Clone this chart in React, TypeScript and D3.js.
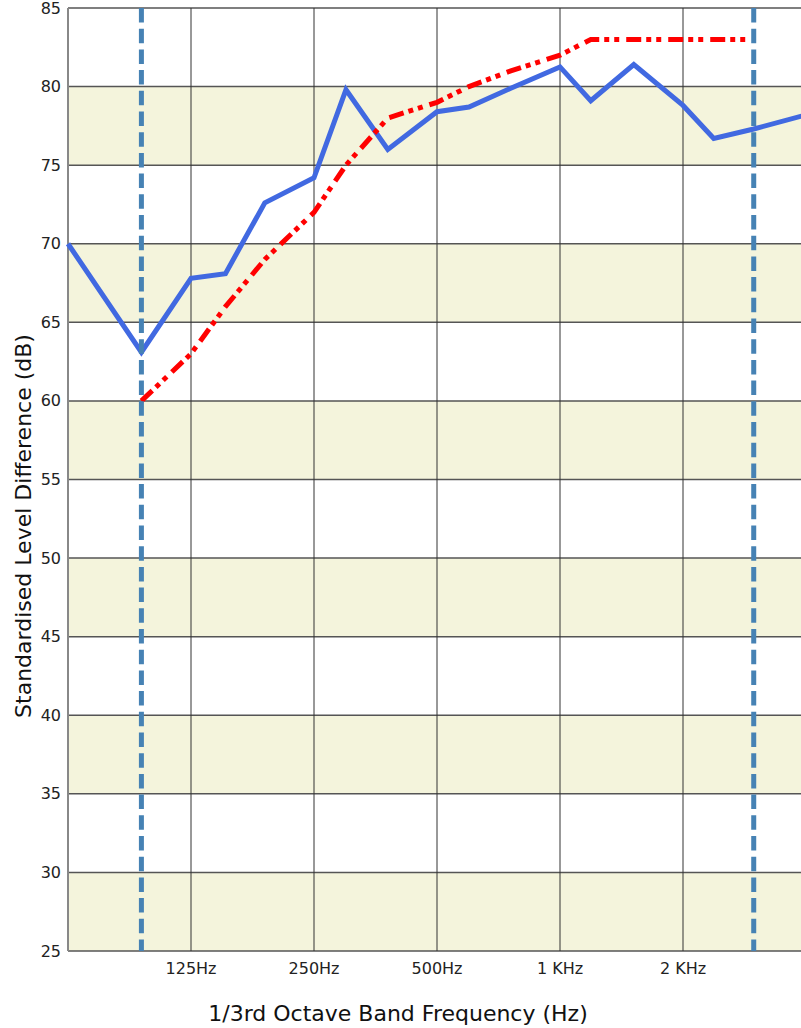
import React from "react";
import * as d3 from "d3";

// Octave tick positions (Hz) and labels
const octaveTicks = [63, 125, 250, 500, 1000, 2000, 4000];
const tickLabels = ["", "125Hz", "250Hz", "500Hz", "1 KHz", "2 KHz", ""];

// Measured standardised level difference (blue)
const measuredFreq = [63, 100, 125, 160, 200, 250, 315, 400, 500, 630, 800, 1000, 1250, 1600, 2000, 2500, 3150, 4000];
const measuredVal = [70.0, 63.1, 67.8, 68.1, 72.6, 74.2, 79.8, 76.0, 78.4, 78.7, 79.9, 81.25, 79.1, 81.4, 78.8, 76.7, 77.3, 78.2];

// Shifted reference curve (red)
const refFreq = [100, 125, 160, 200, 250, 315, 400, 500, 630, 800, 1000, 1250, 1600, 2000, 2500, 3150];
const refVal = [60, 63, 66, 69, 72, 75, 78, 79, 80, 81, 82, 83, 83, 83, 83, 83];

// Vertical boundary lines
const boundaryFreq = [100, 3150];

const yTicks = [25, 30, 35, 40, 45, 50, 55, 60, 65, 70, 75, 80, 85];
const bands = [25, 35, 45, 55, 65, 75];

const W = 801;
const H = 1028;
const left = 68;
const top = 8;
const bottom = 951;
const octavePx = 123;

export default function App() {
  const x = d3
    .scaleLinear()
    .domain(octaveTicks)
    .range(octaveTicks.map((_, i) => left + i * octavePx));
  const y = d3.scaleLinear().domain([25, 85]).range([bottom, top]);
  const right = x(4000);

  const line = d3
    .line<[number, number]>()
    .x((d) => x(d[0]))
    .y((d) => y(d[1]));

  const measured = measuredFreq.map((f, i) => [f, measuredVal[i]] as [number, number]);
  const ref = refFreq.map((f, i) => [f, refVal[i]] as [number, number]);

  const font = "'DejaVu Sans', Verdana, sans-serif";

  return (
    <svg
      width={W}
      height={H}
      style={{ position: "absolute", left: 0, top: 0, background: "#fff" }}
      fontFamily={font}
    >
      <rect x={left} y={top} width={right - left} height={bottom - top} fill="#ffffff" />
      {bands.map((b) => (
        <rect
          key={b}
          x={left}
          y={y(b + 5)}
          width={right - left}
          height={y(b) - y(b + 5)}
          fill="#F4F4DC"
        />
      ))}
      {yTicks.map((t) => (
        <line key={t} x1={left} x2={right} y1={y(t)} y2={y(t)} stroke="#555" strokeWidth={1.5} />
      ))}
      {octaveTicks.slice(1, -1).map((f) => (
        <line key={f} x1={x(f)} x2={x(f)} y1={top} y2={bottom} stroke="#333" strokeWidth={1} />
      ))}
      <line x1={left} x2={left} y1={top} y2={bottom} stroke="#888" strokeWidth={2} />

      {yTicks.map((t) => (
        <text
          key={t}
          x={61}
          y={y(t)}
          textAnchor="end"
          dominantBaseline="central"
          fontSize={16}
          fill="#222"
        >
          {t}
        </text>
      ))}
      {octaveTicks.map((f, i) =>
        tickLabels[i] ? (
          <text key={f} x={x(f)} y={974} textAnchor="middle" fontSize={16} fill="#222">
            {tickLabels[i]}
          </text>
        ) : null
      )}

      <path d={line(measured) || ""} fill="none" stroke="#4169E1" strokeWidth={5} strokeLinejoin="miter" />
      <path
        d={line(ref) || ""}
        fill="none"
        stroke="#FF0000"
        strokeWidth={5}
        strokeDasharray="15,5,5,5,5,7"
      />
      {boundaryFreq.map((f) => (
        <line
          key={f}
          x1={x(f)}
          x2={x(f)}
          y1={top}
          y2={bottom}
          stroke="#4682B4"
          strokeWidth={5}
          strokeDasharray="14.5,6.2"
        />
      ))}

      <text x={398} y={1021} textAnchor="middle" fontSize={22} fill="#111">
        1/3rd Octave Band Frequency (Hz)
      </text>
      <text
        transform={`translate(31, 526) rotate(-90)`}
        textAnchor="middle"
        fontSize={22}
        fill="#111"
      >
        Standardised Level Difference (dB)
      </text>
    </svg>
  );
}
